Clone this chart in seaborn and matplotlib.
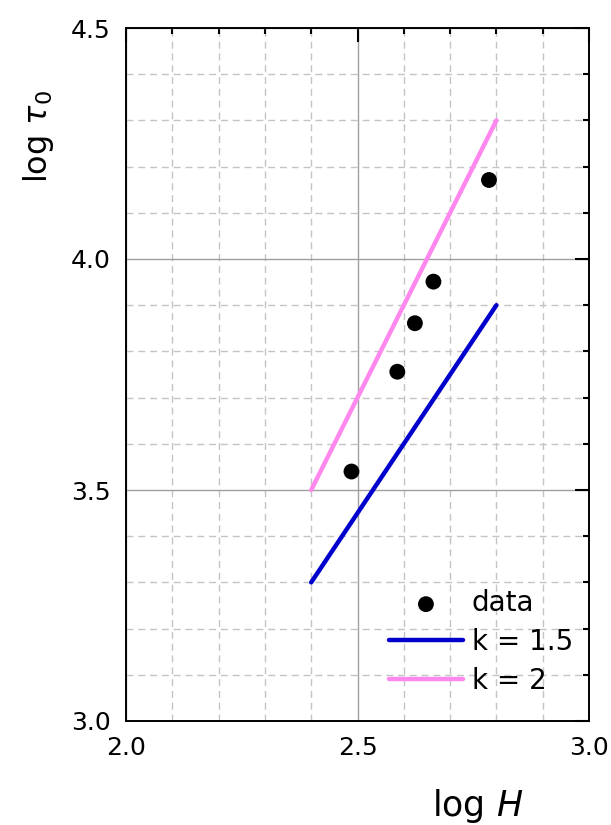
import numpy as np
import pandas as pd
import matplotlib
matplotlib.use("Agg")
import matplotlib.pyplot as plt
from matplotlib.ticker import MultipleLocator
import seaborn as sns

# data
log_H = [2.487, 2.586, 2.624, 2.664, 2.784]
log_tau0 = [3.540, 3.756, 3.861, 3.951, 4.171]

fit_x = [2.4, 2.8]
k15_y = [3.3, 3.9]
k2_y = [3.5, 4.3]

sns.set_style("white")
plt.rcParams["font.family"] = ["DejaVu Sans"]
plt.rcParams["mathtext.fontset"] = "dejavusans"
plt.rcParams["text.color"] = "black"
plt.rcParams["axes.labelcolor"] = "black"
plt.rcParams["xtick.color"] = "black"
plt.rcParams["ytick.color"] = "black"

df = pd.DataFrame({"x": log_H, "y": log_tau0})

fig = plt.figure(figsize=(6.11, 8.25), dpi=100)
ax = fig.add_axes([126 / 611, 104 / 825, 463 / 611, 693 / 825])

sns.lineplot(x=fit_x, y=k15_y, ax=ax, color="#0000cc", lw=3.2, label="k = 1.5", zorder=3)
sns.lineplot(x=fit_x, y=k2_y, ax=ax, color="#ff88ee", lw=3.2, label="k = 2", zorder=3)
sns.scatterplot(data=df, x="x", y="y", ax=ax, color="black", s=130,
                edgecolor="none", label="data", zorder=4)

ax.set_xlim(2.0, 3.0)
ax.set_ylim(3.0, 4.5)
ax.xaxis.set_major_locator(MultipleLocator(0.5))
ax.xaxis.set_minor_locator(MultipleLocator(0.1))
ax.yaxis.set_major_locator(MultipleLocator(0.5))
ax.yaxis.set_minor_locator(MultipleLocator(0.1))
ax.xaxis.set_major_formatter(lambda v, p: f"{v:.1f}")
ax.yaxis.set_major_formatter(lambda v, p: f"{v:.1f}")

ax.grid(True, which="major", color="#a0a0a0", lw=1.0, ls="-")
ax.grid(True, which="minor", color="#c4c4c4", lw=1.0, ls=(0, (5, 3.5)))
ax.set_axisbelow(True)

ax.tick_params(which="both", direction="in", top=True, right=True, width=1.5, color="black")
ax.tick_params(which="major", length=10, labelsize=18, pad=11)
ax.tick_params(which="minor", length=4.5)
for s in ax.spines.values():
    s.set_visible(True)
    s.set_color("black")
    s.set_linewidth(1.4)

ax.set_xlabel(r"log $H$", fontsize=25, va="center")
ax.xaxis.set_label_coords(0.76, -0.122)
ax.set_ylabel(r"log $\tau_0$", fontsize=23, va="center")
ax.yaxis.set_label_coords(-0.19, 0.843)

# legend order: data, k = 1.5, k = 2
h, l = ax.get_legend_handles_labels()
order = [l.index("data"), l.index("k = 1.5"), l.index("k = 2")]
ax.legend([h[i] for i in order], [l[i] for i in order], loc="center left",
          bbox_to_anchor=(0.568, 0.114), frameon=False, fontsize=20,
          borderpad=0, borderaxespad=0, handlelength=2.66, handletextpad=0.32,
          labelspacing=0.38, markerscale=1.0)

fig.savefig("out.png", dpi=100)
